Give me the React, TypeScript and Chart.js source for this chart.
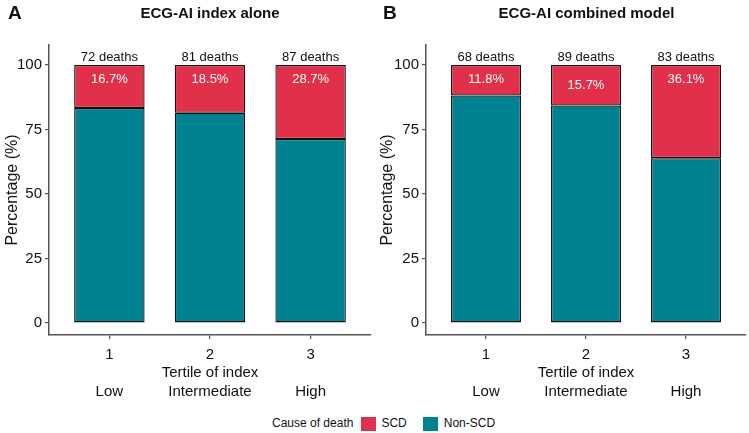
import React, { useEffect, useRef } from "react";
import { Chart, registerables } from "chart.js";

Chart.register(...registerables);

const categories = [1, 2, 3];
const tickLabels = [
  ["1", "", "Low"],
  ["2", "Tertile of index", "Intermediate"],
  ["3", "", "High"],
];
const axisTitleY = "Percentage (%)";
const yTicks = [0, 25, 50, 75, 100];

const titleA = "ECG-AI index alone";
const scdA = [16.7, 18.5, 28.7];
const nonScdA = [83.3, 81.5, 71.3];
const deathsA = [72, 81, 87];
const pctLabelPosA = [94.5, 94.5, 94.5];

const titleB = "ECG-AI combined model";
const scdB = [11.8, 15.7, 36.1];
const nonScdB = [88.2, 84.3, 63.9];
const deathsB = [68, 89, 83];
const pctLabelPosB = [94.5, 92, 94.5];

const SCD_COLOR = "#E0304A";
const NONSCD_COLOR = "#008290";
const FONT = "'Liberation Sans', Arial, sans-serif";

type PanelProps = {
  scd: number[];
  nonScd: number[];
  deaths: number[];
  pctPos: number[];
  yAxisWidth: number;
};

function Panel({ scd, nonScd, deaths, pctPos, yAxisWidth }: PanelProps) {
  const ref = useRef<HTMLCanvasElement | null>(null);
  useEffect(() => {
    if (!ref.current) return;
    const labelPlugin = {
      id: "barLabels",
      afterDatasetsDraw(chart: any) {
        const ctx = chart.ctx;
        const xs = chart.scales.x;
        const ys = chart.scales.y;
        ctx.save();
        ctx.textAlign = "center";
        ctx.font = `13px ${FONT}`;
        categories.forEach((c, i) => {
          const px = xs.getPixelForValue(c);
          ctx.fillStyle = "#111";
          ctx.textBaseline = "bottom";
          ctx.fillText(`${deaths[i]} deaths`, px, ys.getPixelForValue(100) - 1);
          ctx.fillStyle = "#ffffff";
          ctx.textBaseline = "middle";
          ctx.fillText(`${scd[i].toFixed(1)}%`, px, ys.getPixelForValue(pctPos[i]));
        });
        ctx.restore();
      },
    };
    const common = {
      borderColor: "#111",
      borderWidth: 1.3,
      borderSkipped: false,
      barPercentage: 0.7,
      categoryPercentage: 1,
    };
    const chart = new Chart(ref.current, {
      type: "bar",
      data: {
        datasets: [
          {
            label: "Non-SCD",
            data: categories.map((c, i) => ({ x: c, y: nonScd[i] })),
            backgroundColor: NONSCD_COLOR,
            ...common,
          },
          {
            label: "SCD",
            data: categories.map((c, i) => ({ x: c, y: scd[i] })),
            backgroundColor: SCD_COLOR,
            ...common,
          },
        ],
      },
      options: {
        animation: false,
        responsive: false,
        maintainAspectRatio: false,
        layout: { padding: { top: 45, right: 4, left: 0, bottom: 0 } },
        plugins: { legend: { display: false }, tooltip: { enabled: false } },
        scales: {
          x: {
            type: "linear",
            stacked: true,
            offset: false,
            min: 0.4,
            max: 3.6,
            afterBuildTicks: (s: any) => {
              s.ticks = categories.map((v) => ({ value: v }));
            },
            afterFit: (s: any) => {
              s.height = 70;
            },
            ticks: {
              callback: (v: any) => tickLabels[categories.indexOf(Number(v))] ?? "",
              color: "#111",
              font: { size: 15, family: FONT, lineHeight: 1.25 },
              padding: 6,
              maxRotation: 0,
              autoSkip: false,
            },
            grid: {
              offset: false,
              drawOnChartArea: false,
              drawTicks: true,
              tickLength: 4,
              color: "#555",
              lineWidth: 1.2,
            },
            border: { display: true, color: "#555", width: 1.5 },
          },
          y: {
            type: "linear",
            stacked: true,
            min: -4.65,
            max: 107.75,
            afterBuildTicks: (s: any) => {
              s.ticks = yTicks.map((v) => ({ value: v }));
            },
            afterFit: (s: any) => {
              s.width = yAxisWidth;
            },
            ticks: {
              color: "#111",
              font: { size: 15, family: FONT },
              padding: 3,
            },
            title: {
              display: true,
              text: axisTitleY,
              color: "#111",
              font: { size: 16, family: FONT },
              padding: { top: 3, bottom: 0 },
            },
            grid: {
              drawOnChartArea: false,
              drawTicks: true,
              tickLength: 4,
              color: "#555",
              lineWidth: 1.2,
            },
            border: { display: true, color: "#555", width: 1.5 },
          },
        },
      },
      plugins: [labelPlugin],
    });
    return () => chart.destroy();
  }, []);
  return <canvas ref={ref} width={375} height={405} style={{ display: "block", width: 375, height: 405 }} />;
}

export default function App() {
  const abs = (l: number, t: number): React.CSSProperties => ({ position: "absolute", left: l, top: t });
  return (
    <div
      style={{
        position: "fixed",
        left: 0,
        top: 0,
        width: 749,
        height: 433,
        background: "#fff",
        fontFamily: FONT,
        color: "#111",
        overflow: "hidden",
      }}
    >
      <div style={abs(0, 0)}>
        <Panel scd={scdA} nonScd={nonScdA} deaths={deathsA} pctPos={pctLabelPosA} yAxisWidth={49} />
      </div>
      <div style={abs(375, 0)}>
        <Panel scd={scdB} nonScd={nonScdB} deaths={deathsB} pctPos={pctLabelPosB} yAxisWidth={51} />
      </div>
      <div style={{ ...abs(8, 2), fontSize: 19, fontWeight: "bold" }}>A</div>
      <div style={{ ...abs(383, 2), fontSize: 19, fontWeight: "bold" }}>B</div>
      <div style={{ ...abs(49, 4), width: 322, textAlign: "center", fontSize: 15, fontWeight: "bold" }}>{titleA}</div>
      <div style={{ ...abs(426, 4), width: 321, textAlign: "center", fontSize: 15, fontWeight: "bold" }}>{titleB}</div>
      <div style={{ ...abs(272, 416), display: "flex", alignItems: "center", fontSize: 12, lineHeight: "15px" }}>
        <span>Cause of death</span>
        <span style={{ display: "inline-block", width: 15, height: 14, background: SCD_COLOR, marginLeft: 8 }} />
        <span style={{ marginLeft: 5 }}>SCD</span>
        <span style={{ display: "inline-block", width: 15, height: 14, background: NONSCD_COLOR, marginLeft: 16 }} />
        <span style={{ marginLeft: 6 }}>Non-SCD</span>
      </div>
    </div>
  );
}
